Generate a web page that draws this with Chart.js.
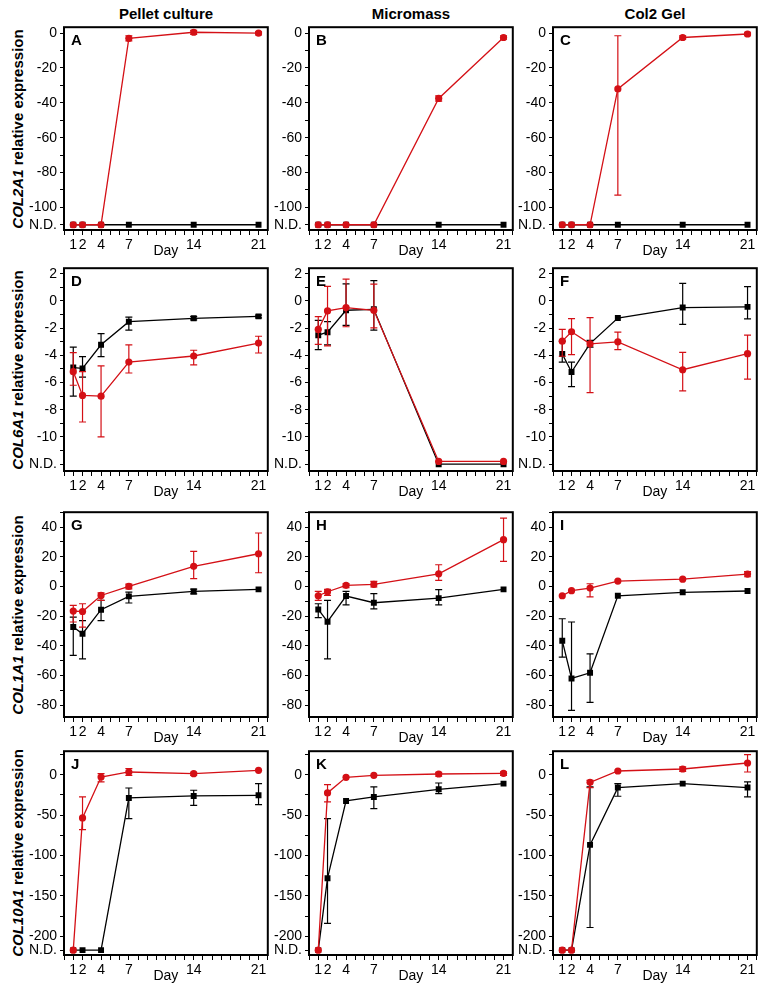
<!DOCTYPE html>
<html>
<head>
<meta charset="utf-8">
<script src="https://cdn.jsdelivr.net/npm/chart.js@4.4.1/dist/chart.umd.min.js"></script>
<style>
    body { margin: 0; background: #fff; width: 766px; height: 991px; position: relative; overflow: hidden; font-family: "Liberation Sans", Arial, sans-serif; }
    canvas { position: absolute; }
    .colTitle { position: absolute; top: 5px; width: 204px; text-align: center; font-weight: bold; font-size: 15px; line-height: 18px; }
    .rowTitle { position: absolute; font-weight: bold; font-size: 15px; white-space: nowrap; transform: translate(-50%, -50%) rotate(-90deg); }
</style>
</head>
<body>
<script>
// 天數與刻度
const days = [1, 2, 4, 7, 14, 21];
const col2Labels = [0, -20, -40, -60, -80, -100];
const col6Labels = [2, 0, -2, -4, -6, -8, -10];
const col1Labels = [40, 20, 0, -20, -40, -60, -80];
const col10Labels = [0, -50, -100, -150, -200];
const columnNames = ['Pellet culture', 'Micromass', 'Col2 Gel'];
const geneNames = ['COL2A1', 'COL6A1', 'COL1A1', 'COL10A1'];

// A - COL2A1 pellet
const aRed = [-110, -110, -110, -3, 0.5, 0];
const aRedErr = [null, null, null, [-4.5, -1.5], [-0.8, 1.6], [-1, 0.8]];
const aBlack = [-110, -110, -110, -110, -110, -110];
const aBlackErr = [null, null, null, null, null, null];
// B - COL2A1 micromass
const bRed = [-110, -110, -110, -110, -37.5, -2.5];
const bRedErr = [null, null, null, null, [-39, -36], [-3.5, -1.5]];
const bBlack = [-110, -110, -110, -110, -110, -110];
const bBlackErr = [null, null, null, null, null, null];
// C - COL2A1 gel
const cRed = [-110, -110, -110, -32, -2.5, -0.5];
const cRedErr = [null, null, null, [-93, -1.5], [-3.5, -1.5], [-1.5, 0.5]];
const cBlack = [-110, -110, -110, -110, -110, -110];
const cBlackErr = [null, null, null, null, null, null];
// D - COL6A1 pellet
const dRed = [-5.2, -6.95, -7.0, -4.5, -4.05, -3.1];
const dRedErr = [[-6.2, -3.8], [-8.9, -5.2], [-10.0, -4.77], [-5.3, -3.23], [-4.7, -3.63], [-3.83, -2.6]];
const dBlack = [-4.9, -4.96, -3.23, -1.53, -1.28, -1.14];
const dBlackErr = [[-7.0, -3.4], [-5.6, -4.1], [-4.1, -2.4], [-2.15, -1.2], [-1.4, -1.15], [-1.25, -1.05]];
// E - COL6A1 micromass
const eRed = [-2.1, -0.74, -0.49, -0.69, -11.8, -11.8];
const eRedErr = [[-3.2, -1.16], [-3.3, 1.06], [-1.9, 1.6], [-1.98, 1.23], null, null];
const eBlack = [-2.52, -2.3, -0.69, -0.62, -12, -12];
const eBlackErr = [[-3.58, -1.43], [-3.23, -1.53], [-1.8, 1.25], [-2.15, 1.48], null, null];
// F - COL6A1 gel
const fRed = [-2.96, -2.27, -3.16, -3.01, -5.06, -3.88];
const fRedErr = [[-4.07, -2.1], [-3.95, -1.3], [-6.74, -1.23], [-3.58, -2.3], [-6.62, -3.78], [-5.75, -2.52]];
const fBlack = [-3.9, -5.23, -3.14, -1.26, -0.49, -0.44];
const fBlackErr = [[-4.5, -2.96], [-6.3, -4.5], [-3.4, -2.9], null, [-1.73, 1.28], [-1.33, 1.04]];
// G - COL1A1 pellet
const gRed = [-16.6, -16.9, -6.1, 0, 13.5, 22];
const gRedErr = [[-24, -12.8], [-27.4, -11.7], [-9.4, -4.3], [-1.6, 1.6], [5.2, 23.6], [9.2, 36]];
const gBlack = [-27.4, -31.9, -15.7, -6.7, -3.4, -2.0];
const gBlackErr = [[-46.5, -20.7], [-48.8, -23], [-23, -9.4], [-11.2, -3.8], [-5, -1.8], null];
// H - COL1A1 micromass
const hRed = [-6.3, -3.6, 0.7, 1.35, 8.5, 31.5];
const hRedErr = [[-9.4, -3.4], [-6.1, -2], [-0.9, 1.8], [-0.4, 3.4], [4, 14.6], [16.9, 46]];
const hBlack = [-15.5, -23.8, -6.5, -11, -7.9, -2];
const hBlackErr = [[-21.1, -11.7], [-48.8, -9.4], [-12.4, -3.4], [-15.1, -4.9], [-12.4, -2.2], null];
// I - COL1A1 gel
const iRed = [-6.3, -2.9, -1.1, 3.6, 4.9, 8.3];
const iRedErr = [null, null, [-7, 1.8], null, null, [6.5, 10]];
const iBlack = [-36.6, -62, -58.2, -6.3, -4, -3.1];
const iBlackErr = [[-47.6, -21.8], [-83.6, -24], [-78.2, -45.4], null, null, null];
// J - COL10A1 pellet
const jRed = [-217, -53.5, -2.9, 3.3, 1.2, 5.3];
const jRedErr = [null, [-68, -27.6], [-9, 1.2], [-0.8, 7.4], [-1, 3], null];
const jBlack = [-217, -217, -217, -28.8, -26.3, -25.5];
const jBlackErr = [null, null, null, [-54.3, -16.5], [-37.9, -19.3], [-37, -11.1]];
// K - COL10A1 micromass
const kRed = [-217, -22.6, -3.3, -0.8, 0.8, 1.6];
const kRedErr = [null, [-33.7, -12.3], null, null, [-2, 3], [-1, 3.5]];
const kBlack = [-217, -128, -32.5, -27.6, -18.1, -11.1];
const kBlackErr = [null, [-184, -54.3], null, [-42, -15.2], [-23.5, -10.3], null];
// L - COL10A1 gel
const lRed = [-217, -217, -9.5, 4.5, 7, 14.4];
const lRedErr = [null, null, [-16, -7], null, [4, 9.5], [3.3, 24.7]];
const lBlack = [-217, -217, -86.8, -16, -11.1, -16];
const lBlackErr = [null, null, [-189, -15.2], [-26.7, -11.1], null, [-27.6, -9]];

// 版面設定
const FONT = '"Liberation Sans", Arial, sans-serif';
const RED = 'rgb(212, 16, 22)';
const BOX_W = 204;
const Y_W = 52;
const X_H = 30;
const PAD_T = 4;
const PAD_R = 4;
const colLeft = [64, 309, 553];
const rows = [
    { top: 27, h: 203, min: -113, max: 3.4, step: 10, labels: col2Labels, nd: -110 },
    { top: 268, h: 203, min: -12.5, max: 2.4, step: 1, labels: col6Labels, nd: -12 },
    { top: 512, h: 205, min: -88, max: 50, step: 10, labels: col1Labels, nd: null },
    { top: 751, h: 204, min: -223, max: 29, step: 25, labels: col10Labels, nd: -217 }
];

const panels = [
    ['A', 0, 0, aRed, aRedErr, aBlack, aBlackErr],
    ['B', 0, 1, bRed, bRedErr, bBlack, bBlackErr],
    ['C', 0, 2, cRed, cRedErr, cBlack, cBlackErr],
    ['D', 1, 0, dRed, dRedErr, dBlack, dBlackErr],
    ['E', 1, 1, eRed, eRedErr, eBlack, eBlackErr],
    ['F', 1, 2, fRed, fRedErr, fBlack, fBlackErr],
    ['G', 2, 0, gRed, gRedErr, gBlack, gBlackErr],
    ['H', 2, 1, hRed, hRedErr, hBlack, hBlackErr],
    ['I', 2, 2, iRed, iRedErr, iBlack, iBlackErr],
    ['J', 3, 0, jRed, jRedErr, jBlack, jBlackErr],
    ['K', 3, 1, kRed, kRedErr, kBlack, kBlackErr],
    ['L', 3, 2, lRed, lRedErr, lBlack, lBlackErr]
];

// 外框
const framePlugin = {
    id: 'frame',
    beforeDatasetsDraw(chart) {
        const { ctx, chartArea: a } = chart;
        ctx.save();
        ctx.strokeStyle = '#000';
        ctx.lineWidth = 2;
        ctx.strokeRect(a.left, a.top, a.right - a.left, a.bottom - a.top);
        ctx.restore();
    }
};

// 誤差線
const errorBarPlugin = {
    id: 'errorBars',
    afterDatasetDraw(chart, args) {
        const ds = chart.data.datasets[args.index];
        if (!ds.errBars) return;
        const { ctx, scales: { x, y } } = chart;
        ctx.save();
        ctx.strokeStyle = ds.borderColor;
        ctx.lineWidth = 1.2;
        ds.errBars.forEach((e, i) => {
            if (!e) return;
            const px = x.getPixelForValue(days[i]);
            const lo = y.getPixelForValue(e[0]);
            const hi = y.getPixelForValue(e[1]);
            ctx.beginPath();
            ctx.moveTo(px, lo); ctx.lineTo(px, hi);
            ctx.moveTo(px - 3.5, lo); ctx.lineTo(px + 3.5, lo);
            ctx.moveTo(px - 3.5, hi); ctx.lineTo(px + 3.5, hi);
            ctx.stroke();
        });
        ctx.restore();
    }
};

// 面板字母
const letterPlugin = {
    id: 'panelLetter',
    afterDraw(chart, args, opts) {
        const { ctx, chartArea: a } = chart;
        ctx.save();
        ctx.font = 'bold 15px ' + FONT;
        ctx.fillStyle = '#000';
        ctx.textBaseline = 'alphabetic';
        ctx.fillText(opts.text, a.left + 7, a.top + 18);
        ctx.restore();
    }
};

Chart.defaults.font.family = FONT;
Chart.defaults.color = '#000';

const xTickVals = [];
for (let d = 0; d <= 22; d++) xTickVals.push(d);

function makePanel([letter, rowIdx, colIdx, red, redErr, black, blackErr]) {
    const r = rows[rowIdx];
    const cv = document.createElement('canvas');
    cv.width = Y_W + BOX_W + PAD_R;
    cv.height = PAD_T + r.h + X_H;
    cv.style.left = (colLeft[colIdx] - Y_W) + 'px';
    cv.style.top = (r.top - PAD_T) + 'px';
    document.body.appendChild(cv);

    const yTickVals = [];
    for (let v = Math.floor(r.max / r.step) * r.step; v >= r.min; v -= r.step) yTickVals.push(v);
    if (r.nd !== null && !yTickVals.includes(r.nd)) yTickVals.push(r.nd);
    yTickVals.sort((p, q) => p - q);

    new Chart(cv, {
        type: 'line',
        data: {
            datasets: [
                {
                    label: 'Red series',
                    data: days.map((d, i) => ({ x: d, y: red[i] })),
                    borderColor: RED,
                    backgroundColor: RED,
                    borderWidth: 1.3,
                    pointStyle: 'circle',
                    pointRadius: 3.6,
                    pointBorderWidth: 0,
                    errBars: redErr
                },
                {
                    label: 'Black series',
                    data: days.map((d, i) => ({ x: d, y: black[i] })),
                    borderColor: '#000',
                    backgroundColor: '#000',
                    borderWidth: 1.3,
                    pointStyle: 'rect',
                    pointRadius: 4.2,
                    pointBorderWidth: 0,
                    errBars: blackErr
                }
            ]
        },
        options: {
            responsive: false,
            animation: false,
            events: [],
            layout: { padding: { top: PAD_T, right: PAD_R, left: 0, bottom: 0 } },
            plugins: {
                legend: { display: false },
                tooltip: { enabled: false },
                panelLetter: { text: letter }
            },
            scales: {
                x: {
                    type: 'linear',
                    min: 0,
                    max: 22,
                    afterBuildTicks: s => { s.ticks = xTickVals.map(v => ({ value: v })); },
                    afterFit: s => { s.height = X_H; s.paddingLeft = 0; s.paddingRight = 0; },
                    ticks: {
                        autoSkip: false,
                        maxRotation: 0,
                        padding: 2,
                        font: { size: 14 },
                        callback: v => days.includes(v) ? String(v) : ''
                    },
                    grid: { drawOnChartArea: false, tickLength: 5, color: '#000' },
                    border: { display: false },
                    title: { display: true, text: 'Day', font: { size: 14 }, padding: 0 }
                },
                y: {
                    type: 'linear',
                    min: r.min,
                    max: r.max,
                    afterBuildTicks: s => { s.ticks = yTickVals.map(v => ({ value: v })); },
                    afterFit: s => { s.width = Y_W; s.paddingTop = 0; s.paddingBottom = 0; },
                    ticks: {
                        autoSkip: false,
                        padding: 3,
                        font: { size: 14 },
                        callback: v => v === r.nd ? 'N.D.' : (r.labels.includes(v) ? String(v) : '')
                    },
                    grid: { drawOnChartArea: false, tickLength: 4, color: '#000' },
                    border: { display: false }
                }
            }
        },
        plugins: [framePlugin, errorBarPlugin, letterPlugin]
    });
}

// 欄標題與列標題
columnNames.forEach((name, i) => {
    const div = document.createElement('div');
    div.className = 'colTitle';
    div.style.left = colLeft[i] + 'px';
    div.textContent = name;
    document.body.appendChild(div);
});

geneNames.forEach((gene, i) => {
    const div = document.createElement('div');
    div.className = 'rowTitle';
    div.style.left = '17px';
    div.style.top = (rows[i].top + rows[i].h / 2) + 'px';
    div.innerHTML = '<i>' + gene + '</i> relative expression';
    document.body.appendChild(div);
});

panels.forEach(makePanel);
</script>
</body>
</html>
